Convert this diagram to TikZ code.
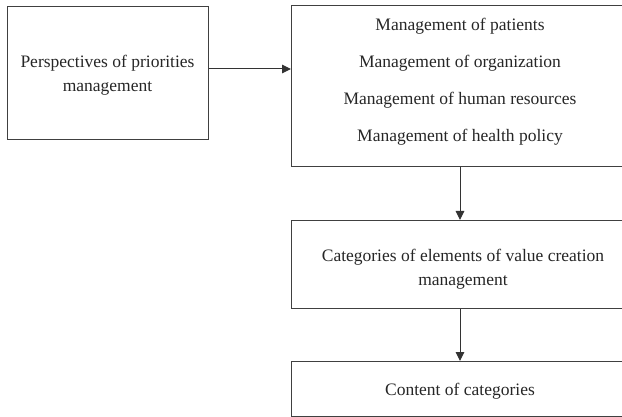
\documentclass[tikz,border=0pt]{standalone}
\usepackage{fontspec}
\setmainfont{Liberation Serif}
\usetikzlibrary{arrows.meta,positioning}
\begin{document}
\begin{tikzpicture}[x=1pt,y=-1pt,
  box/.style={draw=black!75, line width=1pt, rectangle, inner sep=0pt, anchor=north west},
  txt/.style={align=center, text=black!85, font=\fontsize{17.5}{24}\selectfont, inner sep=0pt},
  arr/.style={draw=black!80, line width=1pt, -{Triangle[length=9pt,width=8.5pt]}}]
\useasboundingbox (0,0) rectangle (622,417);
\begin{scope}
\clip (0,0) rectangle (622,417);
% left box
\node[box, minimum width=201pt, minimum height=133pt] (persp) at (7,6) {};
\node[txt] (persptxt) at (107.5,75.5) {Perspectives of priorities\\management};
% top right box
\node[box, minimum width=334pt, minimum height=161pt] (mgmt) at (291,5) {};
\node[txt, font=\fontsize{17.5}{37}\selectfont] (mgmttxt) at (460,82) {Management of patients\\Management of organization\\Management of human resources\\Management of health policy};
% middle box
\node[box, minimum width=334pt, minimum height=88pt] (cat) at (291,220) {};
\node[txt] (cattxt) at (463,269) {Categories of elements of value creation\\management};
% bottom box
\node[box, minimum width=334pt, minimum height=55pt] (cont) at (291,361) {};
\node[txt] (conttxt) at (460,391) {Content of categories};
\end{scope}
% connectors
\coordinate (hy) at (0,69);
\coordinate (vx) at (460,0);
\draw[arr] (persp.east |- hy) -- (mgmt.west |- hy);
\draw[arr] (vx |- mgmt.south) -- (vx |- cat.north);
\draw[arr] (vx |- cat.south) -- (vx |- cont.north);
\end{tikzpicture}
\end{document}
